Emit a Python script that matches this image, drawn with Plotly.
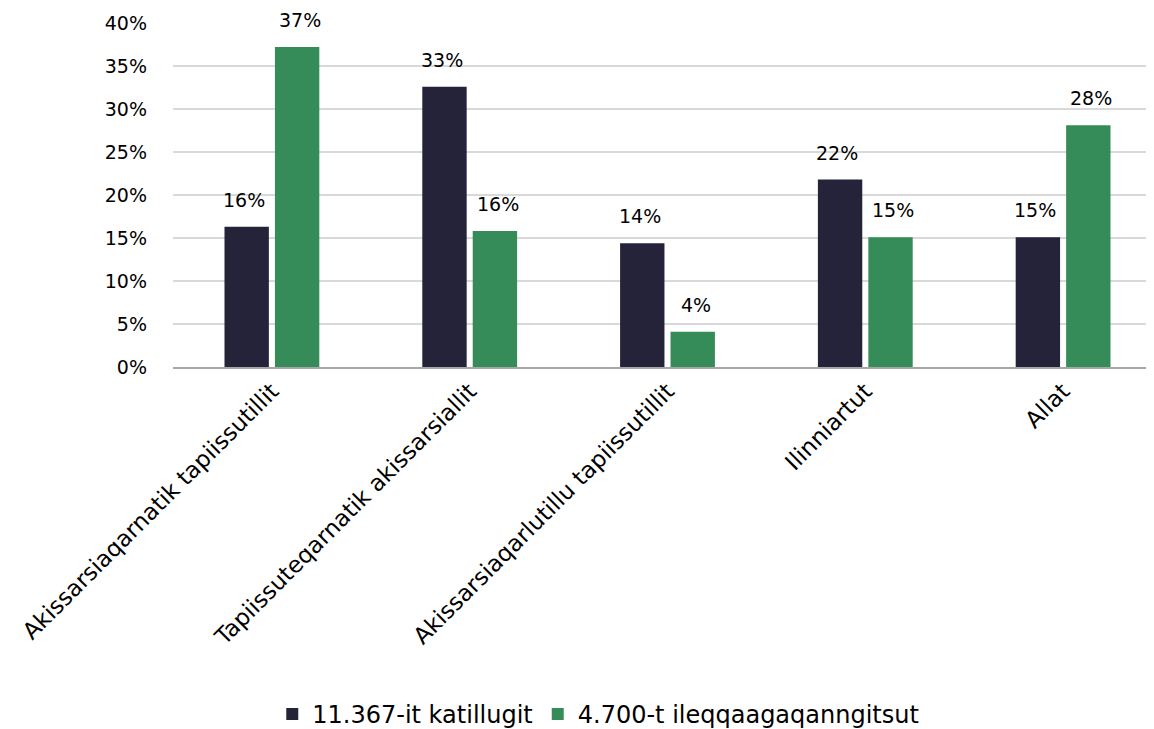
import plotly.graph_objects as go

categories = ["Akissarsiaqarnatik tapiissutillit", "Tapiissuteqarnatik akissarsiallit",
              "Akissarsiaqarlutillu tapiissutillit", "Ilinniartut", "Allat"]
all_people = [16.3, 32.6, 14.4, 21.8, 15.1]
selected = [37.2, 15.8, 4.1, 15.1, 28.1]
names = ["11.367-it katillugit", "4.700-t ileqqaagaqanngitsut"]
colors = ["#24233a", "#358c58"]

fig = go.Figure()
for vals, name, col, shift in zip([all_people, selected], names, colors, [-28, 28]):
    fig.add_trace(go.Bar(x=categories, y=vals, name=name, marker_color=col,
                         marker_line_width=0))
    # value labels above the bars
    for c, v in zip(categories, vals):
        fig.add_annotation(x=c, y=v, xref="x", yref="y", text=f"{v:.0f}%",
                           showarrow=False, xshift=shift, yshift=27, yanchor="middle",
                           font=dict(family="DejaVu Sans", size=19, color="black"))

fig.update_layout(
    width=1154, height=729,
    margin=dict(l=165, r=0, t=15, b=369),
    plot_bgcolor="white", paper_bgcolor="white",
    font=dict(family="DejaVu Sans", size=19, color="black"),
    barmode="group", bargap=0.49, bargroupgap=0.12,
    legend=dict(orientation="h", x=0.43, xanchor="center", y=-1.009, yanchor="middle",
                font=dict(size=24)),
    showlegend=True,
)
fig.update_yaxes(range=[0, 40], dtick=5, ticksuffix="%", gridcolor="#d9d9d9", gridwidth=1.5,
                 zeroline=False, ticks="", ticklabelstandoff=25, automargin=False,
                 tickfont=dict(size=19))
fig.update_xaxes(tickangle=-45, showline=True, linecolor="#a6a6a6", linewidth=1.5,
                 automargin=False, tickfont=dict(size=23))

fig.write_html("out.html")
